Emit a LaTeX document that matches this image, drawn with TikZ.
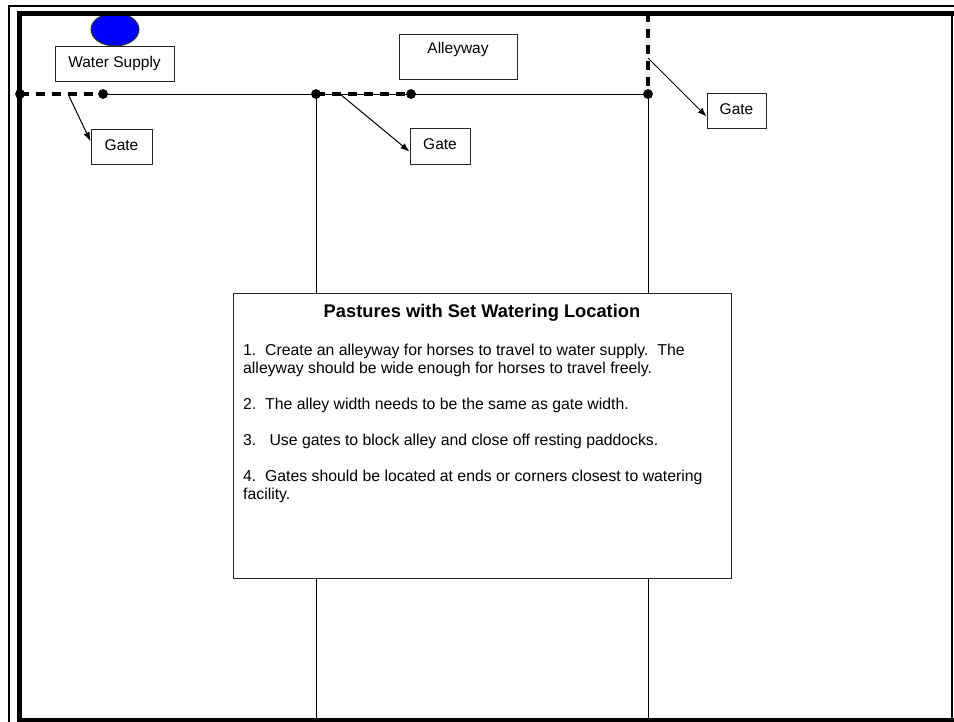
\documentclass[tikz,border=0pt]{standalone}
\usepackage{fontspec}
\setmainfont{Liberation Sans}
\usetikzlibrary{arrows.meta,shapes.geometric}
\begin{document}
\begin{tikzpicture}[x=1pt,y=-1pt,
  box/.style={draw=black!85,line width=0.9pt,fill=white,inner xsep=0pt,inner ysep=4pt,text height=17pt,text depth=10.5pt,anchor=base,font=\fontsize{15.5}{18}\selectfont},
  thinline/.style={line width=1pt},
  gateline/.style={line width=3.2pt,dash pattern=on 9pt off 7pt},
  dot/.style={circle,fill=black,inner sep=0pt,minimum size=9.5pt},
  pointer/.style={line width=1pt,-{Latex[length=9pt,width=6.5pt]}},
  body/.style={anchor=base west,inner sep=0pt,font=\fontsize{15.8}{18}\selectfont}]
\useasboundingbox (0,0) rectangle (954,721);
\fill[white] (0,0) rectangle (954,721);
% fence points
\node[dot] (d0) at (20,94) {};
\node[dot] (d1) at (103,94) {};
\node[dot] (d2) at (316,94) {};
\node[dot] (d3) at (411,94) {};
\node[dot] (d4) at (648,94) {};
\coordinate (gtop) at (648,13);
\coordinate (b2) at (316,721);
\coordinate (b4) at (648,721);
\coordinate (a1) at (68,94);
\coordinate (a2) at (340,94);
\coordinate (a3) at (648,58);
% fences
\draw[thinline] (d1.center) -- (d4.center);
\draw[thinline] (d2.center) -- (b2);
\draw[thinline] (d4.center) -- (b4);
% info box
\node[draw=black!85,line width=0.9pt,fill=white,minimum width=498pt,minimum height=285pt,inner sep=0pt] (info) at (482,435.5) {};
\node[anchor=base,inner sep=0pt,font=\fontsize{18.3}{21}\selectfont\bfseries] (title) at (482,317) {Pastures with Set Watering Location};
\node[body] (l1) at (243,355) {1.\ \ Create an alleyway for horses to travel to water supply.\ \ The};
\node[body] (l2) at (243,373) {alleyway should be wide enough for horses to travel freely.};
\node[body] (l3) at (243,409) {2.\ \ The alley width needs to be the same as gate width.};
\node[body] (l4) at (243,445) {3.\ \ \ Use gates to block alley and close off resting paddocks.};
\node[body] (l5) at (243,481) {4.\ \ Gates should be located at ends or corners closest to watering};
\node[body] (l6) at (243,499) {facility.};
% gates (dashed)
\draw[gateline] (d0.center) -- (d1.center);
\draw[gateline] (d2.center) -- (d3.center);
\draw[gateline] (gtop) -- (d4.center);
\node[dot] at (d0) {};
\node[dot] at (d1) {};
\node[dot] at (d2) {};
\node[dot] at (d3) {};
\node[dot] at (d4) {};
% labels
\node[box,minimum width=119pt] (ws) at (114.5,67) {Water Supply};
\node[box,minimum width=118pt,text height=15pt,text depth=22pt] (alley) at (458,53) {Alleyway};
\node[box,minimum width=61pt] (g1) at (121.5,150) {Gate};
\node[box,minimum width=60pt] (g2) at (440,149.5) {Gate};
\node[box,minimum width=59pt] (g3) at (736.5,114) {Gate};
\draw[pointer] (a1) -- (g1.170);
\draw[pointer] (a2) -- (g2.190);
\draw[pointer] (a3) -- (g3.191);
% water supply
\node[ellipse,draw=black!80,line width=1pt,fill=blue,minimum width=48pt,minimum height=33pt,inner sep=0pt] (pond) at (115,29.5) {};
% frame
\draw[line width=1.8pt] (9,723) -- (9,6) -- (956,6);
\draw[line width=5pt] (19.5,723) -- (19.5,13) -- (956,13);
\draw[line width=5pt] (17,720.5) -- (956,720.5);
\draw[line width=1.5pt] (952,13) -- (952,721);
\end{tikzpicture}
\end{document}
